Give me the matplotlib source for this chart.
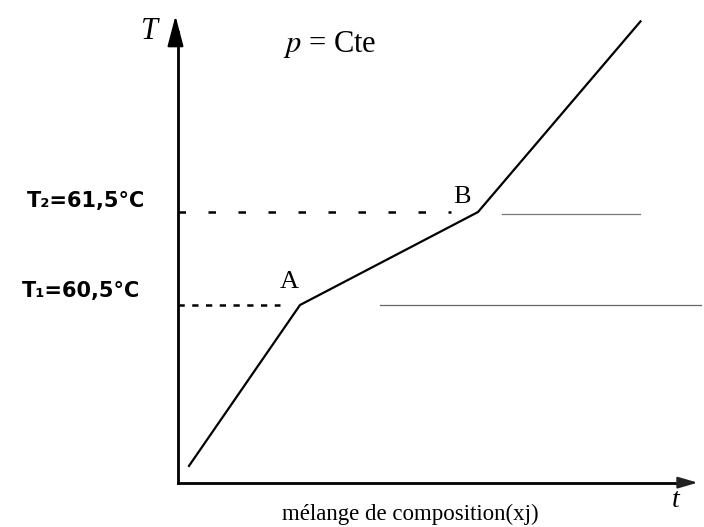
import numpy as np
import matplotlib.pyplot as plt

# temperature / time curve of the mixture at constant pressure
t_curve = [0.22, 2.44, 6.0, 9.25]
T_curve = [58.77, 60.5, 61.5, 63.55]

T1 = 60.5
T2 = 61.5
t_A = 2.44
t_B = 6.0

# axis extents
t0, t_max = 0.0, 10.45
T0, T_max = 58.59, 63.64

fig = plt.figure(figsize=(7.04, 5.27), dpi=100)
ax = fig.add_axes([0, 0, 1, 1])
ax.set_xlim(-3.56, 10.52)
ax.set_ylim(58.113, 63.78)
ax.axis('off')

serif = 'Liberation Serif'

# axes with arrows
ax.plot([t0, t0], [T0, T_max - 0.2], color='black', lw=2.0)
ax.plot([t0, t_max - 0.3], [T0, T0], color='black', lw=2.0)
ax.annotate('', xy=(t0 - 0.05, T_max), xytext=(t0 - 0.05, T_max - 0.35),
            arrowprops=dict(arrowstyle='-|>,head_length=1.9,head_width=0.5',
                            color='black', lw=1.5))
ax.annotate('', xy=(t_max, T0), xytext=(t_max - 0.4, T0),
            arrowprops=dict(arrowstyle='-|>,head_length=1.2,head_width=0.35',
                            color='#222222', lw=1.5))

# heating curve
ax.plot(t_curve, T_curve, color='black', lw=1.6, solid_joinstyle='miter')

# dashed guides to the temperature axis
ax.plot([t0, t_A - 0.4], [T1, T1], color='black', lw=1.8, ls=(0, (2.5, 3)))
ax.plot([t0, t_B - 0.55], [T2, T2], color='black', lw=1.8, ls=(0, (3, 9)))

# faint plateau lines
ax.plot([t_A + 1.6, t_max], [T1, T1], color='#666666', lw=0.9)
ax.plot([t_B + 0.48, 9.24], [T2 - 0.02, T2 - 0.02], color='#777777', lw=0.9)

# labels
ax.text(-0.58, 63.44, 'T', fontsize=22, fontstyle='italic', family=serif,
        ha='center', va='center')
ax.text(2.1, 63.3, '$p$ = Cte', fontsize=22, family=serif,
        ha='left', va='center', math_fontfamily='stix')
ax.text(t_A - 0.03, T1 + 0.13, 'A', fontsize=19, family=serif,
        ha='right', va='bottom')
ax.text(t_B - 0.15, T2 + 0.04, 'B', fontsize=19, family=serif,
        ha='right', va='bottom')
ax.text(9.96, 58.4, 't', fontsize=20, fontstyle='italic', family=serif,
        ha='center', va='center')
ax.text(4.65, 58.19, 'mélange de composition(xj)', fontsize=16.5, family=serif,
        ha='center', va='baseline')

ax.text(-0.66, T2 + 0.12, 'T₂=61,5°C', fontsize=15, fontweight='bold',
        ha='right', va='center')
ax.text(-0.76, T1 + 0.15, 'T₁=60,5°C', fontsize=15, fontweight='bold',
        ha='right', va='center')

fig.savefig('out.png', dpi=100)
